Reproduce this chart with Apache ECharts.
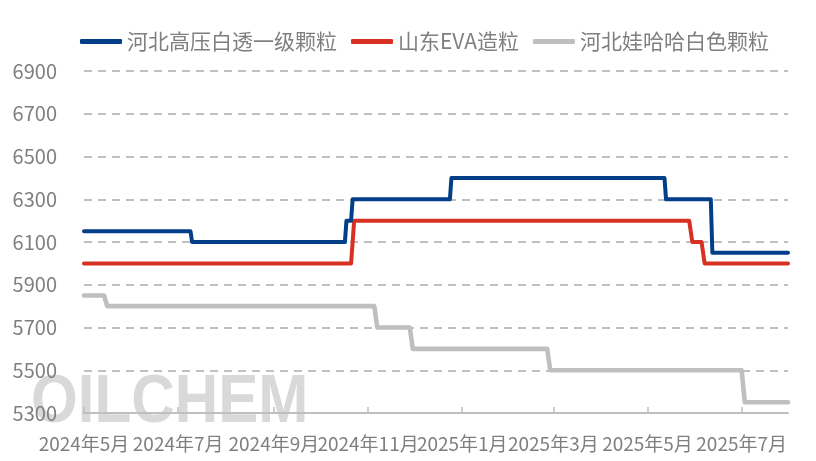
<!DOCTYPE html>
<html><head><meta charset="utf-8">
<script src="https://cdn.jsdelivr.net/npm/echarts@6/dist/echarts.min.js"></script>
<style>html,body{margin:0;padding:0;background:#fff}#c{width:816px;height:461px}</style>
</head><body><div id="c"></div>
<script>
// Series names (legend)
const seriesNames = ['河北高压白透一级颗粒', '山东EVA造粒', '河北娃哈哈白色颗粒'];

// Price change points [date, price] (元/吨)
const hebeiLdpe = [
  ['2024-05-01', 6150], ['2024-07-09', 6150], ['2024-07-10', 6100],
  ['2024-10-17', 6100], ['2024-10-18', 6200], ['2024-10-21', 6200], ['2024-10-22', 6300],
  ['2024-12-24', 6300], ['2024-12-25', 6400], ['2025-05-12', 6400], ['2025-05-13', 6300],
  ['2025-06-11', 6300], ['2025-06-12', 6050], ['2025-07-31', 6050]
];
const shandongEva = [
  ['2024-05-01', 6000], ['2024-10-21', 6000], ['2024-10-23', 6200],
  ['2025-05-28', 6200], ['2025-05-30', 6100], ['2025-06-05', 6100], ['2025-06-07', 6000],
  ['2025-07-31', 6000]
];
const wahahaWhite = [
  ['2024-05-01', 5850], ['2024-05-14', 5850], ['2024-05-16', 5800],
  ['2024-11-05', 5800], ['2024-11-07', 5700], ['2024-11-28', 5700], ['2024-11-30', 5600],
  ['2025-02-25', 5600], ['2025-02-27', 5500], ['2025-07-01', 5500], ['2025-07-03', 5350],
  ['2025-07-31', 5350]
];

// Axis ranges
const xRange = ['2024-05-01', '2025-07-31'];
const yMin = 5300, yMax = 6900, yStep = 200;

const colors = ['#033F89', '#D63123', '#BFBFBF'];
const FONT = '"Noto Sans CJK SC", "Noto Sans", sans-serif';
const DAY = 86400000;

const chart = echarts.init(document.getElementById('c'), null, {renderer: 'canvas'});
const datasets = [hebeiLdpe, shandongEva, wahahaWhite];
const widths = [4, 4, 4.6];

chart.setOption({
  animation: false,
  color: colors,
  legend: {
    data: seriesNames,
    left: 75, top: 26,
    icon: 'roundRect',
    itemWidth: 42, itemHeight: 5,
    itemGap: 14,
    textStyle: {fontFamily: FONT, fontSize: 21, color: '#7f7f7f'}
  },
  grid: {left: 84, right: 28, top: 71, bottom: 48, containLabel: false},
  xAxis: {
    type: 'time',
    min: xRange[0], max: xRange[1],
    minInterval: 61 * DAY, maxInterval: 61 * DAY,
    splitNumber: 7,
    axisLine: {lineStyle: {color: '#bfbfbf', width: 2}},
    axisTick: {show: true, inside: true, length: 6, lineStyle: {color: '#bfbfbf', width: 1.5}},
    splitLine: {show: false},
    axisLabel: {
      fontFamily: FONT, fontSize: 19, color: '#7f7f7f', margin: 21,
      hideOverlap: false,
      formatter: function (v) {
        const d = new Date(v);
        return d.getFullYear() + '年' + (d.getMonth() + 1) + '月';
      }
    }
  },
  yAxis: {
    type: 'value',
    min: yMin, max: yMax, interval: yStep,
    axisLine: {show: false},
    axisTick: {show: false},
    axisLabel: {fontFamily: FONT, fontSize: 20, color: '#7f7f7f', margin: 27,
      formatter: function (v) { return String(v); }},
    splitLine: {lineStyle: {color: '#c0c0c0', width: 2, type: [8, 6]}}
  },
  series: seriesNames.map((n, i) => ({
    name: n,
    type: 'line',
    data: datasets[i],
    showSymbol: false,
    symbol: 'none',
    lineStyle: {width: widths[i], color: colors[i], cap: 'round', join: 'round'},
    z: 5 - i
  }))
});

// Watermark text, drawn beneath everything
const wm = new echarts.graphic.Text({
  x: 31, y: 403,
  scaleX: 0.885,
  z: -5,
  silent: true,
  style: {
    text: 'OILCHEM',
    fontFamily: '"Liberation Sans", Arial, sans-serif',
    fontWeight: 'bold',
    fontSize: 68,
    verticalAlign: 'middle',
    fill: '#d9d9d9'
  }
});
chart.getZr().add(wm);
</script>
</body></html>
